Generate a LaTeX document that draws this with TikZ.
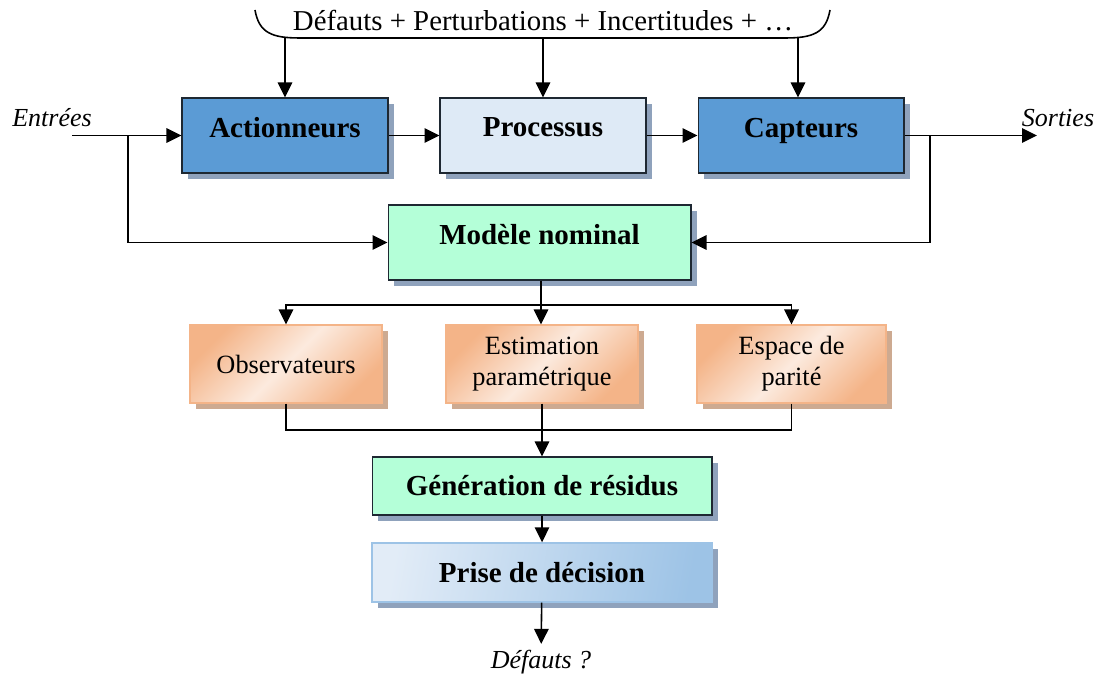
\documentclass[tikz,border=0pt]{standalone}
\usepackage{fontspec}
\setmainfont{Liberation Serif}
\usepackage{xcolor}
\usetikzlibrary{arrows.meta, positioning, shadows}
\definecolor{actblue}{RGB}{91, 155, 213}
\definecolor{procblue}{RGB}{222, 234, 246}
\definecolor{mint}{RGB}{180, 255, 216}
\definecolor{orangedark}{RGB}{244, 180, 136}
\definecolor{orangelight}{RGB}{252, 234, 222}
\definecolor{decblue}{RGB}{157, 195, 230}
\definecolor{declight}{RGB}{226, 236, 247}
\definecolor{shadowblue}{RGB}{143, 162, 188}
\definecolor{shadowbrown}{RGB}{205, 170, 145}
\definecolor{edgedark}{RGB}{30, 40, 50}
\tikzset{
    block/.style={
        rectangle, draw=edgedark, line width=0.6pt, align=center,
        minimum width=4.12cm, minimum height=1.5cm,
        font=\fontsize{16.5}{19}\selectfont\bfseries,
        drop shadow={shadow xshift=0.12cm, shadow yshift=-0.12cm, fill=shadowblue, opacity=1}
    },
    raised/.style={text depth=0.32cm},
    actbox/.style={block, raised, fill=actblue},
    procbox/.style={block, raised, fill=procblue},
    modbox/.style={block, fill=mint},
    methbox/.style={
        rectangle, draw=orangedark, line width=0.6pt, align=center,
        minimum width=3.84cm, minimum height=1.56cm,
        font=\fontsize{15}{17.5}\selectfont,
        shading=axis, top color=orangedark, bottom color=orangedark,
        middle color=orangelight, shading angle=45,
        drop shadow={shadow xshift=0.12cm, shadow yshift=-0.12cm, fill=shadowbrown, opacity=1}
    },
    decbox/.style={
        rectangle, draw=decblue, line width=0.8pt, align=center,
        minimum width=6.8cm, minimum height=1.18cm,
        font=\fontsize{16.5}{19}\selectfont\bfseries,
        shading=axis, left color=declight, right color=decblue, shading angle=80,
        drop shadow={shadow xshift=0.12cm, shadow yshift=-0.12cm, fill=shadowblue, opacity=1}
    },
    arrow/.style={-{Triangle[length=3mm, width=2.9mm]}, line width=0.9pt},
    wire/.style={line width=0.9pt},
    iolabel/.style={font=\fontsize{14.8}{17}\selectfont\itshape},
    toplabel/.style={font=\fontsize{16.4}{19}\selectfont},
}

\begin{document}
\begin{tikzpicture}[x=0.02cm, y=-0.02cm]
    \useasboundingbox (0,0) rectangle (1099,675);

    % top brace and its text
    \draw[wire] (255,10) .. controls (259,33) and (272,38) .. (300,38)
        -- (785,38) .. controls (813,38) and (826,33) .. (830,10);
    \node[toplabel] (dist) at (543,21) {Défauts + Perturbations + Incertitudes + …};
    \coordinate (b1) at (285,38);
    \coordinate (b2) at (543,38);
    \coordinate (b3) at (798,38);

    % process chain
    \node[actbox] (act) at (285,135.5) {Actionneurs};
    \node[procbox] (proc) at (543,135.5) {Processus};
    \node[actbox] (capt) at (801,135.5) {Capteurs};
    \node[modbox, raised, minimum width=6.06cm] (mod) at (539.5,242.5) {Modèle nominal};

    \node[iolabel] (ent) at (52,118) {Entrées};
    \node[iolabel] (sor) at (1058,118) {Sorties};
    \coordinate (in) at (72,135.5);
    \coordinate (out) at (1037,135.5);
    \coordinate (j1) at (128,135.5);
    \coordinate (j2) at (930,135.5);

    \draw[arrow] (b1) -- (act.north);
    \draw[arrow] (b2) -- (proc.north);
    \draw[arrow] (b3) -- (b3 |- capt.north);
    \draw[arrow] (in) -- (act);
    \draw[arrow] (act) -- (proc);
    \draw[arrow] (proc) -- (capt);
    \draw[arrow] (capt) -- (out);
    \draw[arrow] (j1) |- (mod);
    \draw[arrow] (j2) |- (mod);

    % residual generation methods
    \node[methbox] (obs) at (286,364) {Observateurs};
    \node[methbox] (est) at (542,364) {Estimation\\paramétrique};
    \node[methbox, minimum width=3.78cm] (par) at (791.5,364) {Espace de\\parité};
    \coordinate (s1) at (541,305);
    \coordinate (s2) at (541,430);

    \draw[wire] (mod.south -| s1) -- (s1);
    \draw[arrow] (s1) -| (obs);
    \draw[arrow] (s1) -- (s1 |- est.north);
    \draw[arrow] (s1) -| (par);
    \draw[wire] (obs) |- (s2);
    \draw[wire] (par) |- (s2);

    % decision
    \node[modbox, minimum width=6.8cm, minimum height=1.16cm] (gen) at (542,486) {Génération de résidus};
    \node[decbox] (dec) at (542,572.5) {Prise de décision};
    \node[iolabel] (fault) at (541,662) {Défauts ?};

    \draw[arrow] (est) -- (gen);
    \draw[arrow] (gen) -- (dec);
    \draw[arrow] (dec) -- (fault);
\end{tikzpicture}
\end{document}
